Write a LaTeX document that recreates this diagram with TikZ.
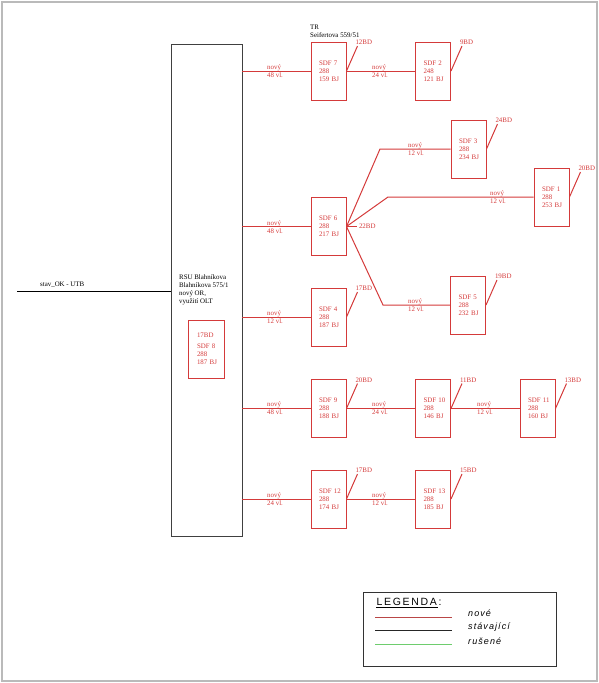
\documentclass[tikz,border=0pt]{standalone}
\usepackage{fontspec}
\setmainfont{Liberation Serif}
\newfontfamily\legfont{Liberation Sans}
\usetikzlibrary{calc}
\definecolor{novred}{RGB}{212,58,58}
\definecolor{legred}{RGB}{185,70,70}
\definecolor{leggreen}{RGB}{110,205,110}
\newcommand{\sdfsize}{\fontsize{6.9}{8}\selectfont}

\begin{document}
\begin{tikzpicture}[x=1pt,y=-1pt,
  sdf/.style={draw=novred,line width=1pt,text=novred,minimum width=35pt,
    minimum height=58pt,inner sep=0pt,text width=19pt,align=left,font=\sdfsize},
  cab/.style={draw=novred,line width=1pt},
  lbl/.style={text=novred,align=left,inner sep=0pt,anchor=west,font=\sdfsize},
  tag/.style={text=novred,inner sep=0.5pt,anchor=south west,xshift=-3pt,font=\sdfsize}]
  \useasboundingbox (0,0) rectangle (599,683);
  \draw[black!27,line width=2pt] (2,2) rectangle (597,681);

  \node[draw=black!75,line width=0.9pt,minimum width=71pt,minimum height=492pt,
    inner sep=0pt] (rsu) at (206.5,290) {};
  \node[anchor=north west,align=left,inner sep=0pt,font=\sdfsize] (rsutxt) at (179,274)
    {RSU Blahníkova\\Blahníkova 575/1\\nový OR,\\využití OLT};
  \node[sdf,minimum width=36pt,text width=18pt] (s8) at (206,349)
    {17BD\\[3pt]SDF~8\\288\\187~BJ};
  \coordinate (utb) at (17,291);
  \draw[line width=0.8pt] (utb) -- (utb -| rsu.west);
  \node[anchor=west,inner sep=0pt,font=\sdfsize] (utbtxt) at (40,285) {stav\_OK - UTB};
  \node[anchor=west,align=left,inner sep=0pt,font=\sdfsize] (tr) at (310,31)
    {TR\\Seifertova 559/51};

  \foreach \n/\x/\y/\a/\b in {7/328.5/71/288/159, 2/433/71/248/121,
      3/468.5/149/288/234, 1/551.5/197/288/253, 6/328.5/226.5/288/217,
      5/468/305/288/232, 4/328.5/317/288/187, 9/328.5/408.5/288/188,
      10/433/408.5/288/146, 11/537.5/408.5/288/160, 12/328.5/499/288/174,
      13/433/499/288/185}
    \node[sdf] (s\n) at (\x,\y) {SDF~\n\\\a\\\b~BJ};

  \coordinate (k3) at (380,149);
  \coordinate (k1) at (388,197);
  \coordinate (k5) at (383,305);
  \draw[cab] (rsu.east |- s7.west) -- (s7.west);
  \draw[cab] (s7.east) -- (s2.west);
  \draw[cab] (rsu.east |- s6.west) -- (s6.west);
  \draw[cab] (s6.east) -- (k3) -- (s3.west);
  \draw[cab] (s6.east) -- (k1) -- (s1.west);
  \draw[cab] (s6.east) -- (k5) -- (s5.west);
  \draw[cab] (rsu.east |- s4.west) -- (s4.west);
  \draw[cab] (rsu.east |- s9.west) -- (s9.west);
  \draw[cab] (s9.east) -- (s10.west);
  \draw[cab] (s10.east) -- (s11.west);
  \draw[cab] (rsu.east |- s12.west) -- (s12.west);
  \draw[cab] (s12.east) -- (s13.west);

  \foreach \i/\x/\y/\v in {a/267/71/48, b/372/71/24, c/267/227/48, d/408/149/12,
      e/490/197/12, f/408/305/12, g/267/317/12, h/267/408.5/48, i/372/408.5/24,
      j/477/408.5/12, k/267/499/24, l/372/499/12}
    \node[lbl] (l\i) at (\x,\y) {nový\\\v\ vl.};

  \foreach \s/\t in {s7/12BD, s2/9BD, s3/24BD, s1/20BD, s5/19BD, s4/17BD,
      s9/20BD, s10/11BD, s11/13BD, s12/17BD, s13/15BD}
    \draw[cab] (\s.east) -- ++(11,-25) node[tag] (\s-bd) {\t};
  \draw[cab] (s6.east) -- ++(10,0) node[text=novred,anchor=west,inner sep=2pt,font=\sdfsize] (s6-bd) {22BD};

  \node[draw=black!80,line width=0.8pt,minimum width=193pt,minimum height=74pt,
    inner sep=0pt] (leg) at (459.5,629) {};
  \node[anchor=west,inner sep=0.5pt,font=\legfont\fontsize{10.5}{12}\selectfont\addfontfeature{LetterSpace=16}]
    (legtit) at (376,602) {LEGENDA:};
  \draw[line width=0.6pt] ([yshift=-1pt]legtit.south west) -- ([yshift=-1pt,xshift=-4pt]legtit.south east);
  \draw[legred,line width=1pt] (375,617) -- (452,617);
  \draw[black!85,line width=1pt] (375,630) -- (452,630);
  \draw[leggreen,line width=1pt] (375,644) -- (452,644);
  \foreach \i/\y/\t in {1/613/nové, 2/627/stávající, 3/641/rušené}
    \node[anchor=west,inner sep=0pt,font=\legfont\itshape\fontsize{9}{10}\selectfont\addfontfeature{LetterSpace=12}]
      (leg\i) at (468,\y) {\t};
\end{tikzpicture}
\end{document}
